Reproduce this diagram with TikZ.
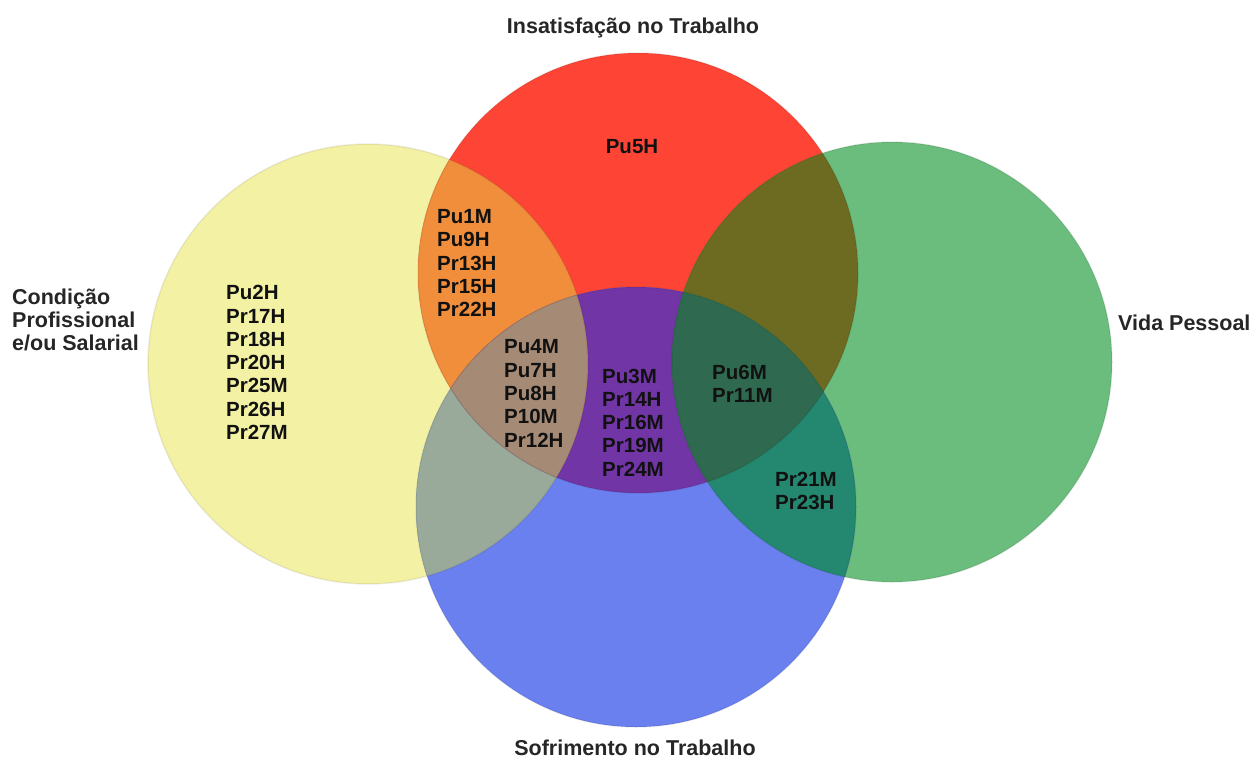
\documentclass[tikz,border=0pt]{standalone}
\usepackage{fontspec}
\setmainfont{Liberation Sans}
\definecolor{cY}{HTML}{F3F1A3}
\definecolor{cR}{HTML}{FE4535}
\definecolor{cG}{HTML}{6ABD7C}
\definecolor{cB}{HTML}{6A80EE}
\definecolor{cYR}{HTML}{F08E3C}
\definecolor{cRB}{HTML}{7135A5}
\definecolor{cRG}{HTML}{6D6A22}
\definecolor{cGB}{HTML}{24876F}
\definecolor{cYB}{HTML}{9AAA9A}
\definecolor{cYRB}{HTML}{A58B75}
\definecolor{cRGB}{HTML}{2F6A50}
\definecolor{txt}{HTML}{111111}
\begin{document}
\begin{tikzpicture}[x=1pt,y=-1pt,
  data/.style={font=\bfseries\fontsize{20.5}{23.3}\selectfont, align=left, inner sep=0pt, anchor=west, text=txt},
  lbl/.style={font=\bfseries\fontsize{21.5}{23}\selectfont, align=left, inner sep=0pt, text=black!85},
  rim/.style={draw=black, draw opacity=0.07, line width=1.5pt}]
\useasboundingbox (0,0) rectangle (1253,761);
\coordinate (cy) at (368,364);
\coordinate (cr) at (638,273);
\coordinate (cg) at (892,362);
\coordinate (cb) at (636,507);
% single circles
\fill[cY] (cy) circle[radius=220pt];
\fill[cR] (cr) circle[radius=220pt];
\fill[cG] (cg) circle[radius=220pt];
\fill[cB] (cb) circle[radius=220pt];
% pairwise overlaps
\begin{scope}\clip (cy) circle[radius=220pt]; \fill[cYR] (cr) circle[radius=220pt];\end{scope}
\begin{scope}\clip (cy) circle[radius=220pt]; \fill[cYB] (cb) circle[radius=220pt];\end{scope}
\begin{scope}\clip (cr) circle[radius=220pt]; \fill[cRB] (cb) circle[radius=220pt];\end{scope}
\begin{scope}\clip (cr) circle[radius=220pt]; \fill[cRG] (cg) circle[radius=220pt];\end{scope}
\begin{scope}\clip (cg) circle[radius=220pt]; \fill[cGB] (cb) circle[radius=220pt];\end{scope}
% triple overlaps
\begin{scope}\clip (cy) circle[radius=220pt]; \clip (cr) circle[radius=220pt]; \fill[cYRB] (cb) circle[radius=220pt];\end{scope}
\begin{scope}\clip (cg) circle[radius=220pt]; \clip (cr) circle[radius=220pt]; \fill[cRGB] (cb) circle[radius=220pt];\end{scope}
% rims
\path[rim] (cy) circle[radius=220pt];
\path[rim] (cr) circle[radius=220pt];
\path[rim] (cg) circle[radius=220pt];
\path[rim] (cb) circle[radius=220pt];
% region texts
\node[data] (ty) at (226,362.5) {Pu2H\\Pr17H\\Pr18H\\Pr20H\\Pr25M\\Pr26H\\Pr27M};
\node[data, anchor=center] (tr) at (632,147) {Pu5H};
\node[data] (tyr) at (437,263) {Pu1M\\Pu9H\\Pr13H\\Pr15H\\Pr22H};
\node[data] (tyrb) at (504,393.5) {Pu4M\\Pu7H\\Pu8H\\P10M\\Pr12H};
\node[data] (trb) at (602,422.5) {Pu3M\\Pr14H\\Pr16M\\Pr19M\\Pr24M};
\node[data] (trgb) at (712,383.5) {Pu6M\\Pr11M};
\node[data] (tgb) at (775,491) {Pr21M\\Pr23H};
% set labels
\node[lbl] (ly) at (12,320) [anchor=west] {Condição\\Profissional\\e/ou Salarial};
\node[lbl] (lr) at (633,28) {Insatisfação no Trabalho};
\node[lbl] (lg) at (1118,323) [anchor=west] {Vida Pessoal};
\node[lbl] (lb) at (635,748) {Sofrimento no Trabalho};
\end{tikzpicture}
\end{document}
